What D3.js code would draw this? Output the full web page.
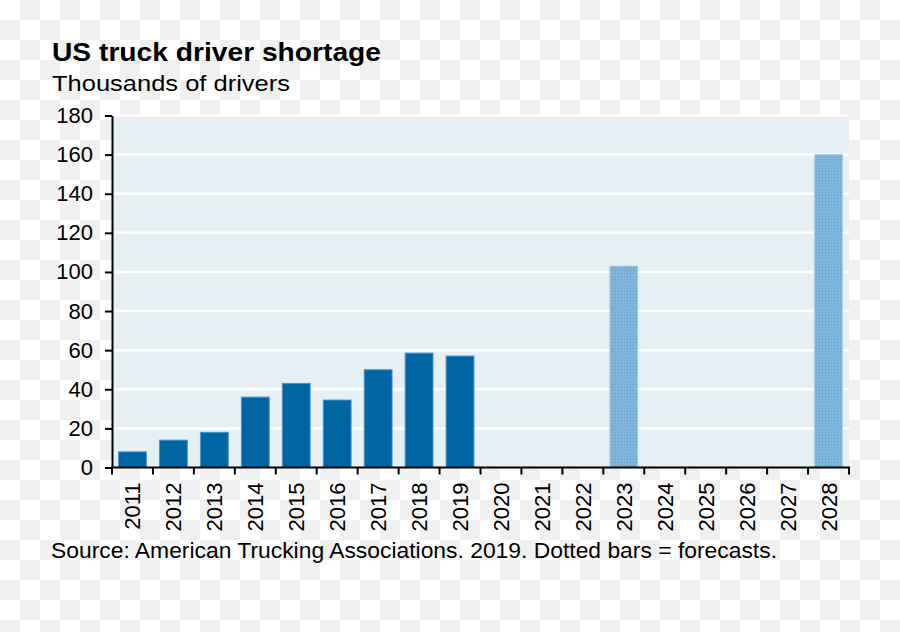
<!DOCTYPE html>
<html><head><meta charset="utf-8">
<script src="https://cdn.jsdelivr.net/npm/d3@7"></script>
<style>body{margin:0;background:#fff}svg{display:block}text{font-family:"Liberation Sans",Arial,sans-serif;fill:#000}</style>
</head><body>
<svg id="c" width="900" height="632"></svg>
<script>
const years = ["2011","2012","2013","2014","2015","2016","2017","2018","2019","2020","2021","2022","2023","2024","2025","2026","2027","2028"];
const actual = [8, 14, 18, 36, 43, 34.5, 50, 58.5, 57, null, null, null, null, null, null, null, null, null];
const forecast = [null, null, null, null, null, null, null, null, null, null, null, null, 103, null, null, null, null, 160];
const yTicks = [0, 20, 40, 60, 80, 100, 120, 140, 160, 180];
const title = "US truck driver shortage";
const subtitle = "Thousands of drivers";
const source = "Source: American Trucking Associations. 2019. Dotted bars = forecasts.";

const svg = d3.select("#c");
const defs = svg.append("defs");
const chk = defs.append("pattern").attr("id","chk").attr("width",40).attr("height",40).attr("patternUnits","userSpaceOnUse");
chk.append("rect").attr("width",40).attr("height",40).attr("fill","#ffffff");
chk.append("rect").attr("x",20).attr("y",0).attr("width",20).attr("height",20).attr("fill","#f0f0f0");
chk.append("rect").attr("x",0).attr("y",20).attr("width",20).attr("height",20).attr("fill","#f0f0f0");
const dot = defs.append("pattern").attr("id","dot").attr("width",3).attr("height",3).attr("patternUnits","userSpaceOnUse");
dot.append("rect").attr("width",3).attr("height",3).attr("fill","#7fb5da");
dot.append("rect").attr("width",1).attr("height",1).attr("fill","#669fcb");
svg.append("rect").attr("width",900).attr("height",632).attr("fill","url(#chk)");

const L=112, R=849, T=115.5, B=467.5;
const x = d3.scaleBand().domain(years).range([L,R]).paddingInner(0.32).paddingOuter(0.16);
const y = d3.scaleLinear().domain([0,180]).range([B,T]);
const step = x.step();

svg.append("rect").attr("x",L).attr("y",T).attr("width",R-L).attr("height",B-T).attr("fill","#e6f0f4");
svg.append("g").selectAll("line").data(yTicks.filter(d=>d>0)).join("line")
  .attr("x1",L).attr("x2",R).attr("y1",d=>y(d)).attr("y2",d=>y(d))
  .attr("stroke","#fff").attr("stroke-width",2.5);

const bars = svg.append("g");
bars.selectAll("rect.a").data(years.map((d,i)=>({y:d,v:actual[i]})).filter(d=>d.v!=null)).join("rect")
  .attr("class","a").attr("x",d=>x(d.y)).attr("width",x.bandwidth())
  .attr("y",d=>y(d.v)).attr("height",d=>B-y(d.v))
  .attr("fill","#0065a3").attr("stroke","#4f95c6").attr("stroke-width",1);
bars.selectAll("rect.f").data(years.map((d,i)=>({y:d,v:forecast[i]})).filter(d=>d.v!=null)).join("rect")
  .attr("class","f").attr("x",d=>x(d.y)).attr("width",x.bandwidth())
  .attr("y",d=>y(d.v)).attr("height",d=>B-y(d.v))
  .attr("fill","url(#dot)").attr("stroke","#a9cfe6").attr("stroke-width",1);

// y axis
const ya = svg.append("g").attr("transform",`translate(${L},0)`)
  .call(d3.axisLeft(y).tickValues(yTicks).tickSize(7).tickPadding(12).tickSizeOuter(0));
ya.select(".domain").attr("stroke","#000").attr("stroke-width",2);
ya.selectAll(".tick line").attr("stroke","#000").attr("stroke-width",2);
ya.selectAll(".tick text").attr("font-size",22).attr("fill","#000");

// x axis
const xa = svg.append("g").attr("transform",`translate(0,${B})`);
xa.append("line").attr("x1",L-1).attr("x2",R+1).attr("stroke","#000").attr("stroke-width",2);
const bounds = years.map(d=>x(d)-(step-x.bandwidth())/2).concat([R]);
xa.selectAll("line.t").data(bounds).join("line").attr("class","t")
  .attr("x1",d=>d).attr("x2",d=>d).attr("y1",0).attr("y2",7).attr("stroke","#000").attr("stroke-width",2);
xa.selectAll("text").data(years).join("text")
  .attr("transform",d=>`translate(${x(d)+x.bandwidth()/2+8},15) rotate(-90)`)
  .attr("text-anchor","end").attr("font-size",22).text(d=>d);

svg.append("text").attr("x",52).attr("y",61).attr("font-size",25).attr("font-weight","bold")
  .attr("textLength",329).attr("lengthAdjust","spacingAndGlyphs").text(title);
svg.append("text").attr("x",52).attr("y",91).attr("font-size",21.5)
  .attr("textLength",238).attr("lengthAdjust","spacingAndGlyphs").text(subtitle);
svg.append("text").attr("x",51).attr("y",558).attr("font-size",21.5)
  .attr("textLength",726).attr("lengthAdjust","spacingAndGlyphs").text(source);
</script>
</body></html>
